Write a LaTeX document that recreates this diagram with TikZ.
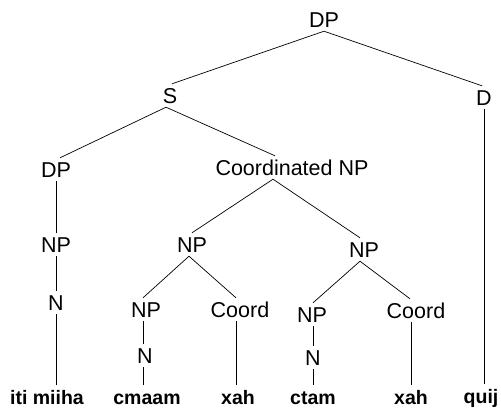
\documentclass[tikz,border=0pt]{standalone}
\usepackage{fontspec}
\setmainfont{Liberation Sans}
\begin{document}
\begin{tikzpicture}[x=1pt,y=-1pt,
  cat/.style={font=\fontsize{21.5}{25}\selectfont, anchor=base, inner xsep=1pt, inner ysep=4pt, text height=15pt, text depth=0pt},
  leaf/.style={cat, font=\fontsize{19.5}{23}\selectfont\bfseries},
  edge/.style={draw=black, line width=0.7pt}]
\useasboundingbox (0,0) rectangle (501,408);
% categories
\node[cat] (dp) at (324,27) {DP};
\node[cat] (s) at (170,103) {S};
\node[cat] (d) at (484,105) {D};
\node[cat] (dpl) at (56,177) {DP};
\node[cat] (cnp) at (292,175) {Coordinated NP};
\node[cat] (npl) at (56,252) {NP};
\node[cat] (npm) at (192,252) {NP};
\node[cat] (npr) at (364,257) {NP};
\node[cat] (nl) at (56,310) {N};
\node[cat] (npa) at (146,317) {NP};
\node[cat] (coa) at (240,317) {Coord};
\node[cat] (npb) at (312,322) {NP};
\node[cat] (cob) at (416,318) {Coord};
\node[cat] (na) at (145,363) {N};
\node[cat] (nb) at (313,365) {N};
% leaves
\node[leaf] (l1) at (47,404) {iti miiha};
\node[leaf] (l2) at (147,404) {cmaam};
\node[leaf] (l3) at (238,404) {xah};
\node[leaf] (l4) at (313,404) {ctam};
\node[leaf] (l5) at (411,404) {xah};
\node[leaf] (l6) at (481,403) {quij};
% edges
\draw[edge] (dp.south) -- ([xshift=2pt]s.north);
\draw[edge] (dp.south) -- ([xshift=-2pt]d.north);
\draw[edge] ([xshift=-4pt]s.south) -- ([xshift=4pt]dpl.north);
\draw[edge] ([xshift=-4pt]s.south) -- ([xshift=-17pt]cnp.north);
\draw[edge] (dpl.south) -- (npl.north);
\draw[edge] (npl.south) -- (nl.north);
\draw[edge] (nl.south) -- (nl.south |- l1.north);
\draw[edge] ([xshift=-19pt]cnp.south) -- (npm.north);
\draw[edge] ([xshift=-19pt]cnp.south) -- ([xshift=-4pt]npr.north);
\draw[edge] ([xshift=-3pt]npm.south) -- ([xshift=-3pt]npa.north);
\draw[edge] ([xshift=-3pt]npm.south) -- ([xshift=-4pt]coa.north);
\draw[edge] ([xshift=-3pt]npa.south) -- ([xshift=-2pt]na.north);
\draw[edge] ([xshift=-2pt]na.south) -- ([xshift=-2pt]na.south |- l2.north);
\draw[edge] ([xshift=-4pt]coa.south) -- ([xshift=-4pt]coa.south |- l3.north);
\draw[edge] ([xshift=-4pt]npr.south) -- ([xshift=1pt]npb.north);
\draw[edge] ([xshift=-4pt]npr.south) -- ([xshift=-6pt]cob.north);
\draw[edge] ([xshift=1pt]npb.south) -- (nb.north);
\draw[edge] (nb.south) -- (nb.south |- l4.north);
\draw[edge] ([xshift=-5pt]cob.south) -- ([xshift=-5pt]cob.south |- l5.north);
\draw[edge] (d.south) -- (d.south |- l6.north);
\end{tikzpicture}
\end{document}
